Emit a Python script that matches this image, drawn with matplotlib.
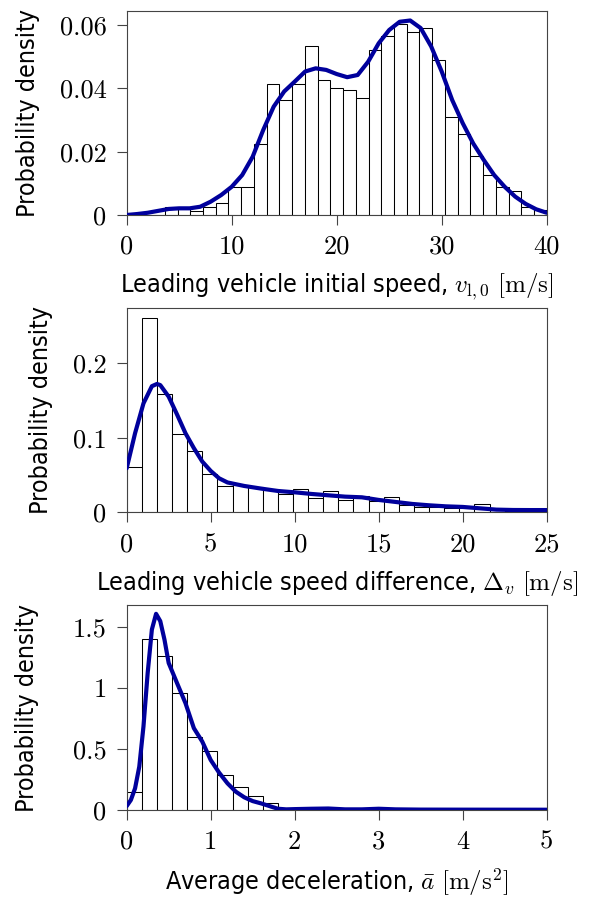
import matplotlib
matplotlib.use("Agg")
import matplotlib.pyplot as plt
import numpy as np
from matplotlib.ticker import FuncFormatter

# --- panel 1: leading vehicle initial speed (33 bins over 0..40)
speed_edges = np.linspace(0, 40, 34)
speed_hist = [0, 0, 0, 0.0025, 0.0023, 0.0014, 0.0025, 0.0038, 0.0088, 0.0088,
              0.0223, 0.0413, 0.0363, 0.0413, 0.0533, 0.0425, 0.0400, 0.0395,
              0.0368, 0.0521, 0.0565, 0.0602, 0.0577, 0.0590, 0.0488, 0.0310,
              0.0255, 0.0185, 0.0127, 0.0088, 0.0076, 0.0025, 0.0016]
speed_kde_x = list(range(0, 41))
speed_kde_y = [0, 0.0003, 0.0007, 0.0013, 0.0019, 0.0021, 0.0021, 0.0026, 0.0042,
               0.0063, 0.0089, 0.0126, 0.0184, 0.0268, 0.0342, 0.0390, 0.0421,
               0.0453, 0.0463, 0.0458, 0.0445, 0.0435, 0.0442, 0.0484, 0.0542,
               0.0584, 0.0610, 0.0614, 0.0590, 0.0532, 0.0453, 0.0363, 0.0290,
               0.0226, 0.0174, 0.0126, 0.0089, 0.0058, 0.0035, 0.0018, 0.0007]

# --- panel 2: speed difference (bin width 0.9)
diff_edges = np.arange(0, 28 * 0.9 + 0.01, 0.9)
diff_hist = [0.0613, 0.260, 0.158, 0.1047, 0.0819, 0.051, 0.0358, 0.0367, 0.0336,
             0.0313, 0.0246, 0.0309, 0.0188, 0.029, 0.0161, 0.0224, 0.0152, 0.0201,
             0.0094, 0.0076, 0.0067, 0.0054, 0.0054, 0.0107, 0.003, 0.002, 0.0013,
             0.0013]
diff_kde_x = [0, 0.5, 1, 1.5, 1.8, 2, 2.5, 3, 3.5, 4, 4.5, 5, 5.5, 6, 7, 8, 9, 10,
              11, 12, 13, 14, 15, 16, 17, 18, 19, 20, 21, 22, 23, 24, 25]
diff_kde_y = [0.059, 0.106, 0.146, 0.169, 0.172, 0.1705, 0.155, 0.131, 0.106, 0.086,
              0.068, 0.0555, 0.0456, 0.040, 0.0353, 0.0318, 0.0286, 0.0268, 0.0246,
              0.0228, 0.021, 0.0201, 0.0166, 0.0139, 0.0112, 0.0094, 0.008, 0.0072,
              0.0054, 0.0036, 0.0031, 0.003, 0.003]

# --- panel 3: average deceleration (bin width 0.18)
dec_edges = np.arange(0, 28 * 0.18 + 0.001, 0.18)
dec_hist = [0.143, 1.404, 1.261, 0.956, 0.599, 0.481, 0.283, 0.184, 0.115, 0.058,
            0.008, 0.004, 0.004, 0.006, 0.003, 0.002, 0.004, 0.002, 0, 0, 0, 0,
            0, 0, 0, 0, 0, 0]
dec_kde_x = [0, 0.05, 0.1, 0.15, 0.2, 0.25, 0.3, 0.35, 0.4, 0.45, 0.5, 0.6, 0.7, 0.8,
             0.9, 1.0, 1.1, 1.2, 1.3, 1.4, 1.5, 1.6, 1.7, 1.8, 1.9, 2.0, 2.2, 2.4,
             2.6, 2.8, 3.0, 3.2, 3.5, 4.0, 5.0]
dec_kde_y = [0.03, 0.08, 0.176, 0.354, 0.684, 1.124, 1.481, 1.61, 1.55, 1.398, 1.206,
             1.04, 0.876, 0.67, 0.56, 0.409, 0.305, 0.217, 0.148, 0.102, 0.071, 0.052,
             0.03, 0.008, 0.003, 0.005, 0.008, 0.01, 0.003, 0.003, 0.008, 0.003,
             0.001, 0.0005, 0]

plt.rcParams['mathtext.fontset'] = 'cm'
plt.rcParams['axes.formatter.use_mathtext'] = True

curve_col = '#00009C'
edge_col = '#444444'
tick_fs = 19
lab_fs = 18

panels = [
    (speed_edges, speed_hist, speed_kde_x, speed_kde_y, (0, 40), 0.0645,
     [0, 0.02, 0.04, 0.06], [0, 10, 20, 30, 40],
     r'Leading vehicle initial speed, $v_{\mathrm{l},0}\ [\mathrm{m/s}]$', 0.7606, 14),
    (diff_edges, diff_hist, diff_kde_x, diff_kde_y, (0, 25), 0.2738,
     [0, 0.1, 0.2], [0, 5, 10, 15, 20, 25],
     r'Leading vehicle speed difference, $\Delta_v\ [\mathrm{m/s}]$', 0.4295, 14),
    (dec_edges, dec_hist, dec_kde_x, dec_kde_y, (0, 5), 1.679,
     [0, 0.5, 1, 1.5], [0, 1, 2, 3, 4, 5],
     r'Average deceleration, $\bar{a}\ [\mathrm{m/s^2}]$', 0.0983, 24),
]

fig = plt.figure(figsize=(5.9, 8.98), dpi=100)
for edges, hist, kx, ky, xl, ytop, yt, xt, xlab, bottom, ypad in panels:
    ax = fig.add_axes([0.2147, bottom, 0.7119, 0.2275])
    ax.bar(edges[:-1], hist, width=np.diff(edges), align='edge',
           color='white', edgecolor='black', linewidth=0.75, zorder=2)
    ax.plot(kx, ky, color=curve_col, linewidth=3.0, zorder=3,
            solid_capstyle='round', solid_joinstyle='round')
    ax.set_xlim(*xl)
    ax.set_ylim(0, ytop)
    ax.set_xticks(xt)
    ax.set_yticks(yt)
    ax.yaxis.set_major_formatter(FuncFormatter(lambda v, p: '%g' % v))
    ax.xaxis.set_major_formatter(FuncFormatter(lambda v, p: '%g' % v))
    for sp in ax.spines.values():
        sp.set_color(edge_col)
        sp.set_linewidth(0.8)
    ax.tick_params(direction='out', length=7.5, width=0.8, color=edge_col,
                   labelsize=tick_fs, pad=7)
    for lab in ax.get_xticklabels() + ax.get_yticklabels():
        lab.set_family('cmr10')
    ax.set_xlabel(xlab, fontsize=lab_fs, family='DejaVu Sans',
                  fontstretch='condensed', labelpad=9)
    ax.set_ylabel('Probability density', fontsize=lab_fs, family='DejaVu Sans',
                  fontstretch='condensed', labelpad=ypad)

fig.savefig('out.png', dpi=100)
